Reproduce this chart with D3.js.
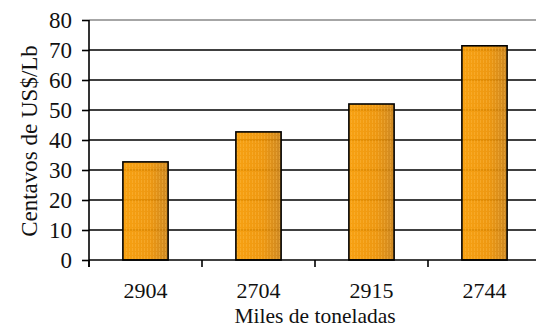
<!DOCTYPE html>
<meta charset="utf-8">
<style>
body { margin: 0; background: #fff; }
svg { display: block; }
.axis text, .title { font-family: "Liberation Serif", "DejaVu Serif", serif; font-size: 23px; fill: #111; }
</style>
<body>
<script src="https://cdn.jsdelivr.net/npm/d3@7"></script>
<script>

// data
var categories = ["2904", "2704", "2915", "2744"];
var values = [32.7, 42.7, 52.0, 71.4];
var yTicks = [0, 10, 20, 30, 40, 50, 60, 70, 80];

var margin = {top: 20, right: -5, bottom: 68, left: 89},
    width = 536 - margin.left - margin.right,
    height = 328 - margin.top - margin.bottom;

var svg = d3.select("body").append("svg")
    .attr("width", 536)
    .attr("height", 328);

// bar fill: orange gradient plus a fine striped texture
var defs = svg.append("defs");
var grad = defs.append("linearGradient").attr("id", "barGrad")
    .attr("x1", "0").attr("x2", "1").attr("y1", "0").attr("y2", "0");
grad.append("stop").attr("offset", "0%").attr("stop-color", "#f79a00");
grad.append("stop").attr("offset", "60%").attr("stop-color", "#ec9000");
grad.append("stop").attr("offset", "100%").attr("stop-color", "#c87f14");

var pat = defs.append("pattern").attr("id", "dots")
    .attr("patternUnits", "userSpaceOnUse")
    .attr("width", 3).attr("height", 4);
pat.append("rect").attr("x", 1).attr("y", 0).attr("width", 1).attr("height", 3)
    .attr("fill", "#ffc050").attr("opacity", 0.35);

var g = svg.append("g")
    .attr("transform", "translate(" + margin.left + "," + margin.top + ")");

var x = d3.scaleBand().domain(categories).range([0, width]).paddingInner(0.6).paddingOuter(0.3);
var xTicks = d3.scaleBand().domain(categories).range([0, width]);
var y = d3.scaleLinear().domain([0, 80]).range([height, 0]);

// gridlines
g.selectAll(".grid").data(yTicks.filter(function(d) { return d > 0; }))
  .enter().append("line")
    .attr("x1", 0).attr("x2", width)
    .attr("y1", function(d) { return y(d); })
    .attr("y2", function(d) { return y(d); })
    .attr("stroke", function(d) { return d === 80 ? "#888" : "#000"; })
    .attr("stroke-width", 1.6);

// bars
var bars = g.selectAll(".bar").data(values).enter();
bars.append("rect")
    .attr("x", function(d, i) { return x(categories[i]); })
    .attr("y", function(d) { return y(d); })
    .attr("width", x.bandwidth())
    .attr("height", function(d) { return height - y(d); })
    .attr("fill", "url(#barGrad)")
    .attr("fill-opacity", 0.93);
bars.append("rect")
    .attr("x", function(d, i) { return x(categories[i]); })
    .attr("y", function(d) { return y(d); })
    .attr("width", x.bandwidth())
    .attr("height", function(d) { return height - y(d); })
    .attr("fill", "url(#dots)")
    .attr("stroke", "#000")
    .attr("stroke-width", 1.6);

// y axis
var yAxis = d3.axisLeft(y).tickValues(yTicks).tickSize(7).tickPadding(10);
var gY = g.append("g").attr("class", "axis").call(yAxis);
gY.attr("font-family", null).attr("font-size", null);
gY.select(".domain").remove();
gY.selectAll(".tick line").attr("stroke-width", 1.6);
gY.append("line").attr("x1", 0).attr("x2", 0).attr("y1", 0).attr("y2", height + 7)
    .attr("stroke", "#000").attr("stroke-width", 1.6);

// x axis with ticks between categories
var gX = g.append("g").attr("class", "axis")
    .attr("transform", "translate(0," + height + ")");
gX.append("line").attr("x1", 0).attr("x2", width).attr("y1", 0).attr("y2", 0)
    .attr("stroke", "#000").attr("stroke-width", 1.6);
gX.selectAll(".sep").data(categories).enter().append("line")
    .attr("x1", function(d) { return xTicks(d); })
    .attr("x2", function(d) { return xTicks(d); })
    .attr("y1", 0).attr("y2", 7)
    .attr("stroke", "#000").attr("stroke-width", 1.6);
gX.selectAll(".lab").data(categories).enter().append("text")
    .attr("x", function(d) { return xTicks(d) + xTicks.bandwidth() / 2; })
    .attr("y", 38)
    .attr("text-anchor", "middle")
    .style("font-size", "22px")
    .text(function(d) { return d; });

// axis titles
svg.append("text").attr("class", "title")
    .attr("x", 315).attr("y", 323)
    .attr("text-anchor", "middle")
    .style("font-size", "21.5px")
    .text("Miles de toneladas");
svg.append("text").attr("class", "title")
    .attr("transform", "translate(37,141) rotate(-90)")
    .attr("text-anchor", "middle")
    .text("Centavos de US$/Lb");

</script>
</body>
